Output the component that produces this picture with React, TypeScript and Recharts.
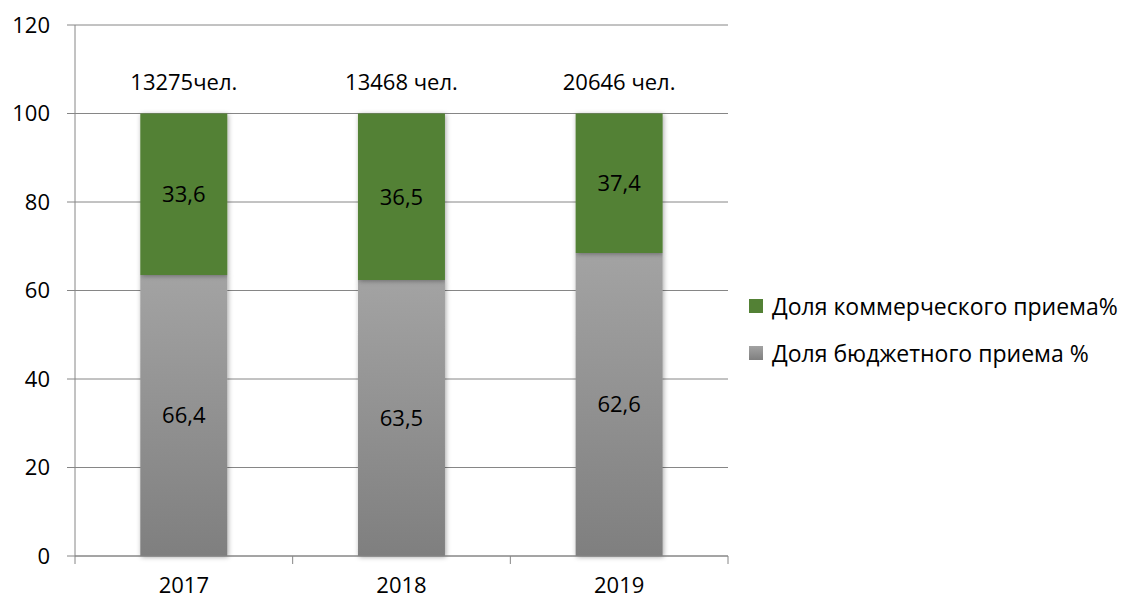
import { BarChart, Bar, XAxis, YAxis, CartesianGrid, Legend, LabelList } from "recharts";

const years = ["2017", "2018", "2019"];
const budgetShare = [63.5, 62.4, 68.5];
const commercialShare = [36.5, 37.6, 31.5];
const budgetLabels = ["66,4", "63,5", "62,6"];
const commercialLabels = ["33,6", "36,5", "37,4"];
const totalLabels = ["13275чел.", "13468 чел.", "20646 чел."];
const yTicks = [0, 20, 40, 60, 80, 100, 120];

const COMMERCIAL_NAME = "Доля коммерческого приема%";
const BUDGET_NAME = "Доля бюджетного приема %";

const FONT = "'Open Sans', sans-serif";
const GRID = "#868686";
const GREEN = "#538135";

const W = 1125;
const H = 600;
const LEFT = 75;
const RIGHT = 397;
const BAND = (W - LEFT - RIGHT) / years.length;

const data = years.map((year, i) => ({
  year,
  budget: budgetShare[i],
  commercial: commercialShare[i],
  budgetLabel: budgetLabels[i],
  commLabel: commercialLabels[i],
  total: totalLabels[i],
}));

// year label plus tick marks on the category borders
function YearTick({ x, y, payload, index }: any) {
  return (
    <g>
      <line x1={x - BAND / 2} x2={x - BAND / 2} y1={y} y2={y + 8} stroke={GRID} />
      {index === years.length - 1 && (
        <line x1={x + BAND / 2} x2={x + BAND / 2} y1={y} y2={y + 8} stroke={GRID} />
      )}
      <text x={x} y={y + 37} textAnchor="middle" fontSize={22} fill="#000" fontFamily={FONT}>
        {payload.value}
      </text>
    </g>
  );
}

function LegendBox() {
  const items = [
    { name: COMMERCIAL_NAME, fill: GREEN },
    { name: BUDGET_NAME, fill: "linear-gradient(#a3a3a3, #7f7f7f)" },
  ];
  return (
    <div style={{ fontFamily: FONT, fontSize: 23, color: "#000" }}>
      {items.map((it) => (
        <div key={it.name} style={{ display: "flex", alignItems: "center", height: 47 }}>
          <span style={{ width: 14, height: 14, background: it.fill, marginRight: 9, flex: "none" }} />
          <span style={{ whiteSpace: "nowrap" }}>{it.name}</span>
        </div>
      ))}
    </div>
  );
}

export default function App() {
  return (
    <div style={{ position: "absolute", left: 0, top: 0, background: "#fff" }}>
      <BarChart
        width={W}
        height={H}
        data={data}
        margin={{ top: 25, right: RIGHT, bottom: 0, left: 0 }}
        barCategoryGap="30%"
      >
        <defs>
          <linearGradient id="grayFill" x1="0" y1="0" x2="0" y2="1">
            <stop offset="0%" stopColor="#a3a3a3" />
            <stop offset="100%" stopColor="#7f7f7f" />
          </linearGradient>
          <filter id="barShadow" x="-20%" y="-5%" width="140%" height="110%">
            <feDropShadow dx="1" dy="1" stdDeviation="2.5" floodColor="#000" floodOpacity="0.35" />
          </filter>
        </defs>
        <CartesianGrid vertical={false} stroke={GRID} />
        <XAxis
          dataKey="year"
          height={44}
          axisLine={{ stroke: GRID }}
          tickLine={false}
          tickSize={0}
          tickMargin={0}
          tick={<YearTick />}
          interval={0}
        />
        <YAxis
          width={LEFT}
          domain={[0, 120]}
          ticks={yTicks}
          interval={0}
          axisLine={{ stroke: GRID }}
          tickLine={{ stroke: GRID }}
          tickSize={8}
          tickMargin={17}
          tick={{ fill: "#000", fontSize: 22, fontFamily: FONT }}
        />
        <Legend
          layout="vertical"
          align="center"
          verticalAlign="middle"
          wrapperStyle={{ left: 749, top: 282, width: 376 }}
          content={() => <LegendBox />}
        />
        <Bar
          dataKey="budget"
          name={BUDGET_NAME}
          stackId="a"
          fill="url(#grayFill)"
          filter="url(#barShadow)"
          isAnimationActive={false}
        >
          <LabelList dataKey="budgetLabel" position="center" fill="#000" fontSize={22} fontFamily={FONT} />
        </Bar>
        <Bar
          dataKey="commercial"
          name={COMMERCIAL_NAME}
          stackId="a"
          fill={GREEN}
          filter="url(#barShadow)"
          isAnimationActive={false}
        >
          <LabelList dataKey="commLabel" position="center" fill="#000" fontSize={22} fontFamily={FONT} />
          <LabelList dataKey="total" position="top" offset={24} fill="#000" fontSize={22} fontFamily={FONT} />
        </Bar>
      </BarChart>
    </div>
  );
}
